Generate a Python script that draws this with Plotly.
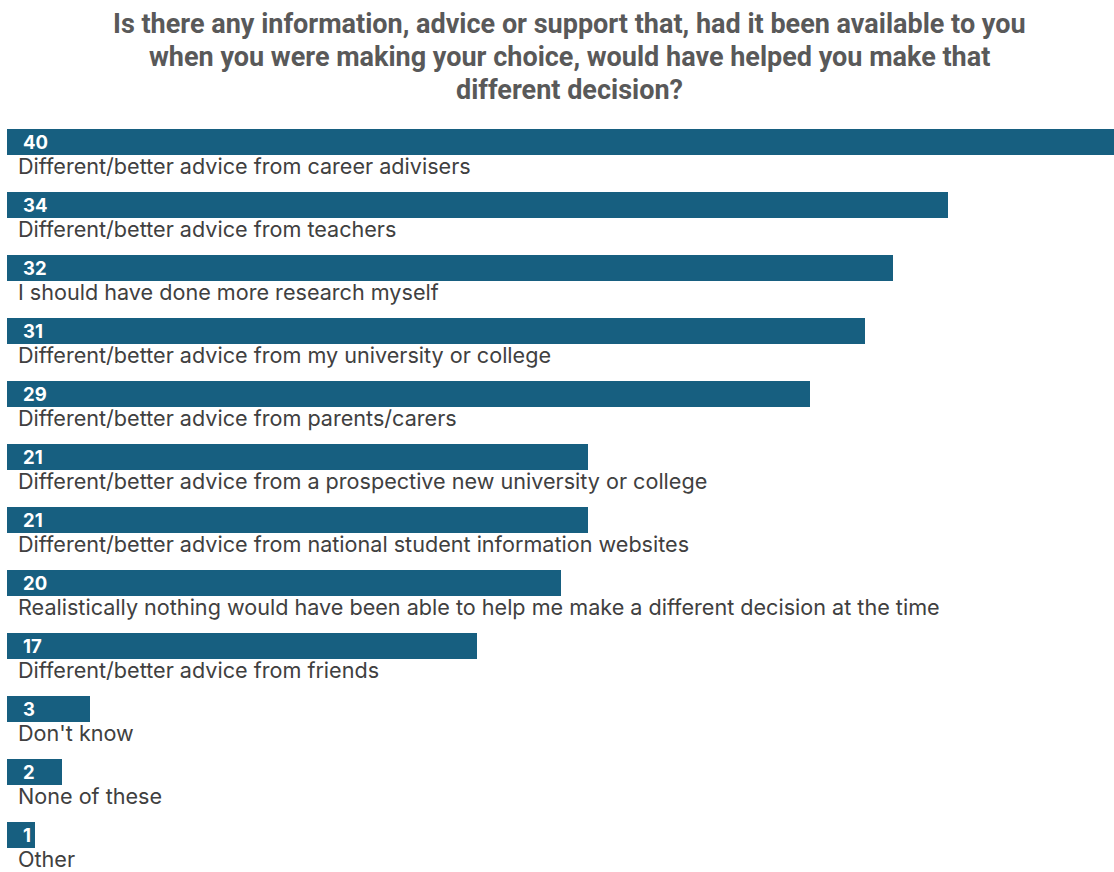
import plotly.graph_objects as go

categories = [
    "Different/better advice from career adivisers",
    "Different/better advice from teachers",
    "I should have done more research myself",
    "Different/better advice from my university or college",
    "Different/better advice from parents/carers",
    "Different/better advice from a prospective new university or college",
    "Different/better advice from national student information websites",
    "Realistically nothing would have been able to help me make a different decision at the time",
    "Different/better advice from friends",
    "Don't know",
    "None of these",
    "Other",
]
values = [40, 34, 32, 31, 29, 21, 21, 20, 17, 3, 2, 1]

title_lines = [
    "Is there any information, advice or support that, had it been available to you",
    "when you were making your choice, would have helped you make that",
    "different decision?",
]

BAR = "#175F80"
W, H = 1114, 872
TOP = 110
positions = list(range(len(values)))

fig = go.Figure(go.Bar(
    x=values,
    y=positions,
    orientation="h",
    width=26 / 63,
    marker=dict(color=BAR, line=dict(width=0)),
    hoverinfo="skip",
))

annotations = []
for pos, cat, val in zip(positions, categories, values):
    annotations.append(dict(
        x=0, y=pos, xref="x", yref="y", xanchor="left", yanchor="middle",
        xshift=14, text=f"<b>{val}</b>", showarrow=False,
        font=dict(family="Inter, Roboto, sans-serif", size=18.5, color="white"),
    ))
    annotations.append(dict(
        x=0, y=pos + 0.385, xref="x", yref="y", xanchor="left", yanchor="middle",
        xshift=10, text=cat, showarrow=False, borderpad=0,
        font=dict(family="Inter, Roboto, sans-serif", size=21.6, color="#404040"),
    ))

# Title, one centred line at a time (paper coords are relative to the plot area)
for k, line in enumerate(title_lines):
    py = 24 + 33 * k
    annotations.append(dict(
        x=(569.5 - 7) / (W - 7), y=1 + (TOP - py) / (H - TOP), xref="paper", yref="paper",
        xanchor="center", yanchor="middle", text=f"<b>{line}</b>", showarrow=False,
        font=dict(family="Roboto, sans-serif", size=27, color="#595959"),
    ))

fig.update_layout(
    width=W, height=H,
    margin=dict(l=7, r=0, t=TOP, b=0),
    paper_bgcolor="white", plot_bgcolor="white",
    xaxis=dict(range=[0, 40], visible=False, fixedrange=True),
    yaxis=dict(range=[11.587, -0.508], visible=False, fixedrange=True),
    annotations=annotations,
    showlegend=False,
    bargap=0,
)

fig.write_html("out.html")
